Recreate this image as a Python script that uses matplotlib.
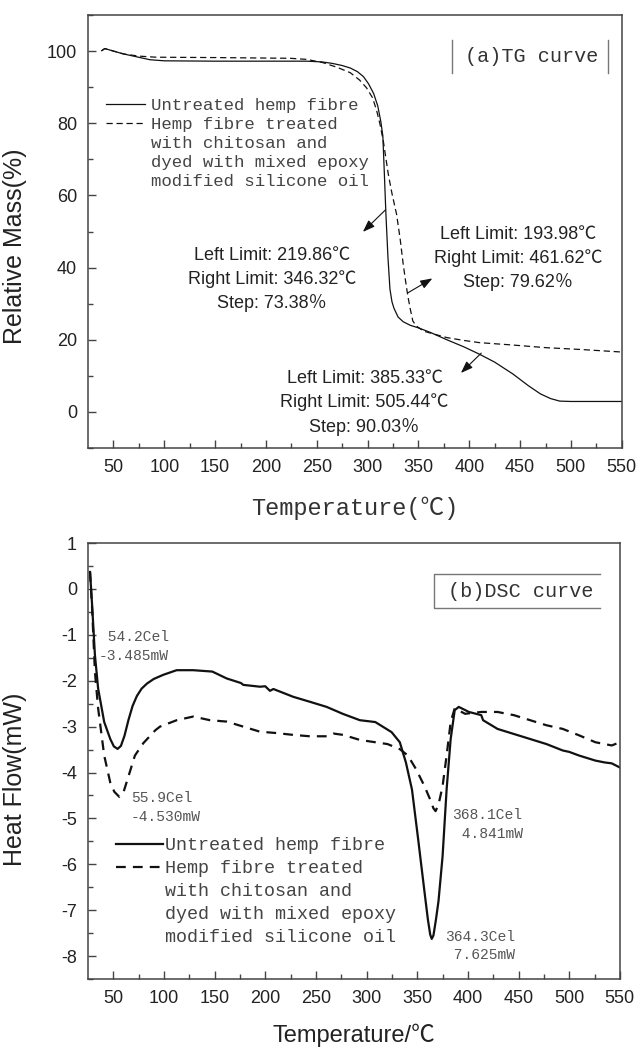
import numpy as np
import matplotlib
matplotlib.use('Agg')
import matplotlib.pyplot as plt
from matplotlib.lines import Line2D

plt.rcParams['axes.unicode_minus'] = False

# fonts: Arial-like for numbers, SimSun-like look replaced by a mono serif
sans = ['Liberation Sans', 'Noto Sans CJK SC']
mono = ['Liberation Mono', 'Noto Sans CJK SC']

# ---- (a) TG data ----
tg_T_raw = [38.5, 41.5, 50, 60, 73, 86, 100, 150, 200, 240, 255, 265, 275, 283, 290,
            296, 301, 306, 310, 313, 315, 316.5, 318, 320, 322, 324, 326, 330, 335,
            342, 350, 362, 378, 395, 410, 425, 443, 458, 470, 480, 489, 500, 550]
tg_raw = [100.1, 100.7, 100.0, 99.2, 98.4, 97.6, 97.3, 97.2, 97.2, 97.2, 97.0, 96.6,
          96.0, 95.3, 94.3, 92.9, 90.9, 88.2, 84.8, 80.5, 76.5, 66.0, 55.0, 43.0, 34.0,
          30.5, 28.7, 26.3, 25.0, 24.0, 23.3, 22.0, 20.0, 18.0, 16.0, 13.8, 10.5, 7.3,
          5.0, 3.7, 3.0, 2.9, 2.9]

tg_T_trt = [38.5, 41.5, 50, 60, 75, 92, 150, 224, 240, 256, 270, 283, 292, 299, 305,
            309, 312, 315.5, 320.3, 324, 328.5, 332, 335, 337.5, 339.6, 342, 344.5,
            348, 355, 365, 378, 395, 410, 440, 476, 510, 550]
tg_trt = [100.1, 100.7, 100.0, 99.2, 98.6, 98.3, 98.2, 98.0, 97.7, 96.8, 95.5, 94.0,
          92.0, 89.8, 87.0, 83.4, 80.0, 75.0, 66.0, 60.5, 54.8, 48.0, 41.0, 36.0, 32.1,
          28.5, 25.2, 23.8, 22.4, 21.6, 20.6, 19.8, 19.2, 18.6, 17.8, 17.3, 16.6]

# ---- (b) DSC data ----
dsc_T_raw = [27, 29, 31.8, 35, 41, 47, 50.5, 54.2, 57.5, 61, 65, 69, 73.3, 78, 83.3, 90,
             99.4, 112.5, 128.9, 147.7, 161.9, 176, 178.3, 194.8, 200, 204.6, 208, 227.6,
             244.3, 260.6, 276.4, 293.4, 308.6, 324.7, 332.8, 338.8, 344.8, 351, 357,
             360.5, 362.8, 364.3, 366, 368.5, 371, 375, 379, 383, 387, 391, 401, 413.2,
             415, 429.3, 445.4, 461.5, 477.6, 493.7, 500, 509.8, 525.9, 535, 542, 550]
dsc_raw = [0.37, -0.33, -1.43, -2.17, -2.9, -3.27, -3.43, -3.485, -3.42, -3.2, -2.85,
           -2.55, -2.33, -2.17, -2.06, -1.96, -1.87, -1.77, -1.77, -1.8, -1.95, -2.05,
           -2.09, -2.13, -2.12, -2.22, -2.18, -2.35, -2.46, -2.57, -2.72, -2.86, -2.9,
           -3.12, -3.34, -3.78, -4.37, -5.47, -6.57, -7.2, -7.53, -7.625, -7.55, -7.2,
           -6.8, -5.83, -4.37, -3.27, -2.64, -2.57, -2.68, -2.75, -2.86, -3.05, -3.16,
           -3.27, -3.38, -3.52, -3.55, -3.63, -3.74, -3.78, -3.8, -3.89]

dsc_T_trt = [27, 29, 31.8, 35, 41, 47, 51, 55.9, 60, 64, 71.3, 79.6, 91.4, 96, 112.5,
             128.9, 145.4, 161.9, 178.3, 194.7, 211.2, 227.6, 244, 260.6, 267.1, 277,
             293.4, 308.6, 320.7, 332.8, 340.8, 348.9, 357, 363, 366, 368.1, 371, 375,
             379, 383, 387, 397.2, 413.2, 429.3, 445.4, 461.5, 477.6, 493.7, 509.8,
             525.9, 542, 550]
dsc_trt = [0.37, -0.4, -1.8, -2.6, -3.63, -4.22, -4.42, -4.53, -4.43, -4.15, -3.63,
           -3.36, -3.08, -3.0, -2.86, -2.78, -2.86, -2.89, -3.0, -3.11, -3.14, -3.18,
           -3.21, -3.21, -3.15, -3.18, -3.29, -3.34, -3.38, -3.49, -3.63, -3.93, -4.29,
           -4.6, -4.78, -4.841, -4.7, -4.3, -3.63, -2.9, -2.6, -2.72, -2.68, -2.68,
           -2.75, -2.86, -2.97, -3.05, -3.19, -3.34, -3.41, -3.34]

legend_lines = ['Untreated hemp fibre', 'Hemp fibre treated', 'with chitosan and',
                'dyed with mixed epoxy', 'modified silicone oil']

tg_notes = [
    ('Left Limit: 219.86℃\nRight Limit: 346.32℃\nStep: 73.38％', (317.6, 56.0), (295.4, 49.9), (206, 36.7)),
    ('Left Limit: 193.98℃\nRight Limit: 461.62℃\nStep: 79.62％', (339.6, 33.0), (363.7, 37.0), (448, 42.5)),
    ('Left Limit: 385.33℃\nRight Limit: 505.44℃\nStep: 90.03％', (411.8, 16.3), (391.8, 10.8), (297, 2.5)),
]
dsc_notes = [
    (' 54.2Cel\n-3.485mW', (35.5, -1.26)),
    ('55.9Cel\n-4.530mW', (67.4, -4.76)),
    ('368.1Cel\n 4.841mW', (384.9, -5.14)),
    ('364.3Cel\n 7.625mW', (377.3, -7.78)),
]

spine_c = '#444444'
txt_c = '#222222'
grey_txt = '#555555'

fig = plt.figure(figsize=(6.4, 10.48), dpi=100)
ax1 = fig.add_axes([0.1375, 0.5725, 0.834, 0.4132])
ax2 = fig.add_axes([0.1375, 0.0658, 0.831, 0.416])


def style_axes(ax):
    for s in ax.spines.values():
        s.set_color(spine_c)
        s.set_linewidth(1.1)
    ax.tick_params(which='both', direction='in', colors=spine_c, labelcolor=txt_c,
                   top=False, right=False)
    ax.tick_params(which='major', length=6, width=1.0, labelsize=13, pad=8)
    ax.tick_params(which='minor', length=3.5, width=1.0)
    for lab in ax.get_xticklabels() + ax.get_yticklabels():
        lab.set_family(sans)


# ---------- (a) TG ----------
ax1.plot(tg_T_raw, tg_raw, color='#111111', lw=0.9)
ax1.plot(tg_T_trt, tg_trt, color='#111111', lw=0.9, linestyle=(0, (5, 3)))
ax1.set_xlim(25, 550)
ax1.set_ylim(-10, 110)
ax1.set_xticks(np.arange(50, 551, 50))
ax1.set_xticks(np.arange(75, 551, 50), minor=True)
ax1.set_yticks(np.arange(0, 101, 20))
ax1.set_yticks(np.arange(-10, 111, 20), minor=True)
style_axes(ax1)
ax1.set_ylabel('Relative Mass(%)', family=sans, fontsize=18, color=txt_c)
ax1.yaxis.set_label_coords(-0.114, 0.466)
ax1.set_xlabel('Temperature(℃)', family=mono, fontsize=17, color='#333333')
ax1.xaxis.set_label_coords(0.5, -0.113)

for txt, xy, head, pos in tg_notes:
    ax1.annotate('', xy=head, xytext=xy,
                 arrowprops=dict(arrowstyle='-|>,head_length=0.6,head_width=0.22',
                                 mutation_scale=12, color='#111111', lw=0.8,
                                 shrinkA=0, shrinkB=0))
    ax1.text(pos[0], pos[1], txt, family=sans, fontsize=13, color=txt_c,
             ha='center', va='center', multialignment='center', linespacing=1.45)

h1 = [Line2D([], [], color='#111111', lw=0.9),
      Line2D([], [], color='#111111', lw=0.9, linestyle=(0, (5, 3)))] + \
     [Line2D([], [], lw=0)] * 3
leg1 = ax1.legend(h1, legend_lines, loc='upper left', bbox_to_anchor=(0.034, 0.808),
                  frameon=False, borderpad=0, borderaxespad=0, handlelength=2.25,
                  handletextpad=0.35, labelspacing=0.22,
                  prop=dict(family=mono, size=12.5))
for t in leg1.get_texts():
    t.set_color('#444444')

ax1.text(0.8305, 0.903, '(a)TG curve', transform=ax1.transAxes, family=mono,
         fontsize=14.5, color='#333333', ha='center', va='center')
for bx in (0.682, 0.974):
    ax1.plot([bx, bx], [0.867, 0.942], transform=ax1.transAxes, color='#777777', lw=1.0)

# ---------- (b) DSC ----------
ax2.plot(dsc_T_raw, dsc_raw, color='#111111', lw=1.6)
ax2.plot(dsc_T_trt, dsc_trt, color='#111111', lw=1.6, linestyle=(0, (4.4, 3.2)))
ax2.set_xlim(25, 550)
ax2.set_ylim(-8.5, 1)
ax2.set_xticks(np.arange(50, 551, 50))
ax2.set_xticks(np.arange(75, 551, 50), minor=True)
ax2.set_yticks(np.arange(-8, 2, 1))
ax2.set_yticks(np.arange(-8.5, 1, 1), minor=True)
style_axes(ax2)
ax2.set_ylabel('Heat Flow(mW)', family=sans, fontsize=18, color=txt_c)
ax2.yaxis.set_label_coords(-0.114, 0.459)
ax2.set_xlabel('Temperature/℃', family=sans, fontsize=17, color=txt_c)
ax2.xaxis.set_label_coords(0.5, -0.103)

for txt, pos in dsc_notes:
    ax2.text(pos[0], pos[1], txt, family=mono, fontsize=10.5, color=grey_txt,
             ha='left', va='center', linespacing=1.45)

h2 = [Line2D([], [], color='#111111', lw=1.6),
      Line2D([], [], color='#111111', lw=1.6, linestyle=(0, (4.4, 3.2)))] + \
     [Line2D([], [], lw=0)] * 3
leg2 = ax2.legend(h2, legend_lines, loc='upper left', bbox_to_anchor=(0.052, 0.325),
                  frameon=False, borderpad=0, borderaxespad=0, handlelength=2.6,
                  handletextpad=0.1, labelspacing=0.32,
                  prop=dict(family=mono, size=13.2))
for t in leg2.get_texts():
    t.set_color('#444444')

ax2.text(0.814, 0.890, '(b)DSC curve', transform=ax2.transAxes, family=mono,
         fontsize=14.5, color='#333333', ha='center', va='center')
ax2.plot([0.962, 0.650, 0.650, 0.962], [0.929, 0.929, 0.851, 0.851],
         transform=ax2.transAxes, color='#777777', lw=1.0)

fig.savefig('out.png', dpi=100)
